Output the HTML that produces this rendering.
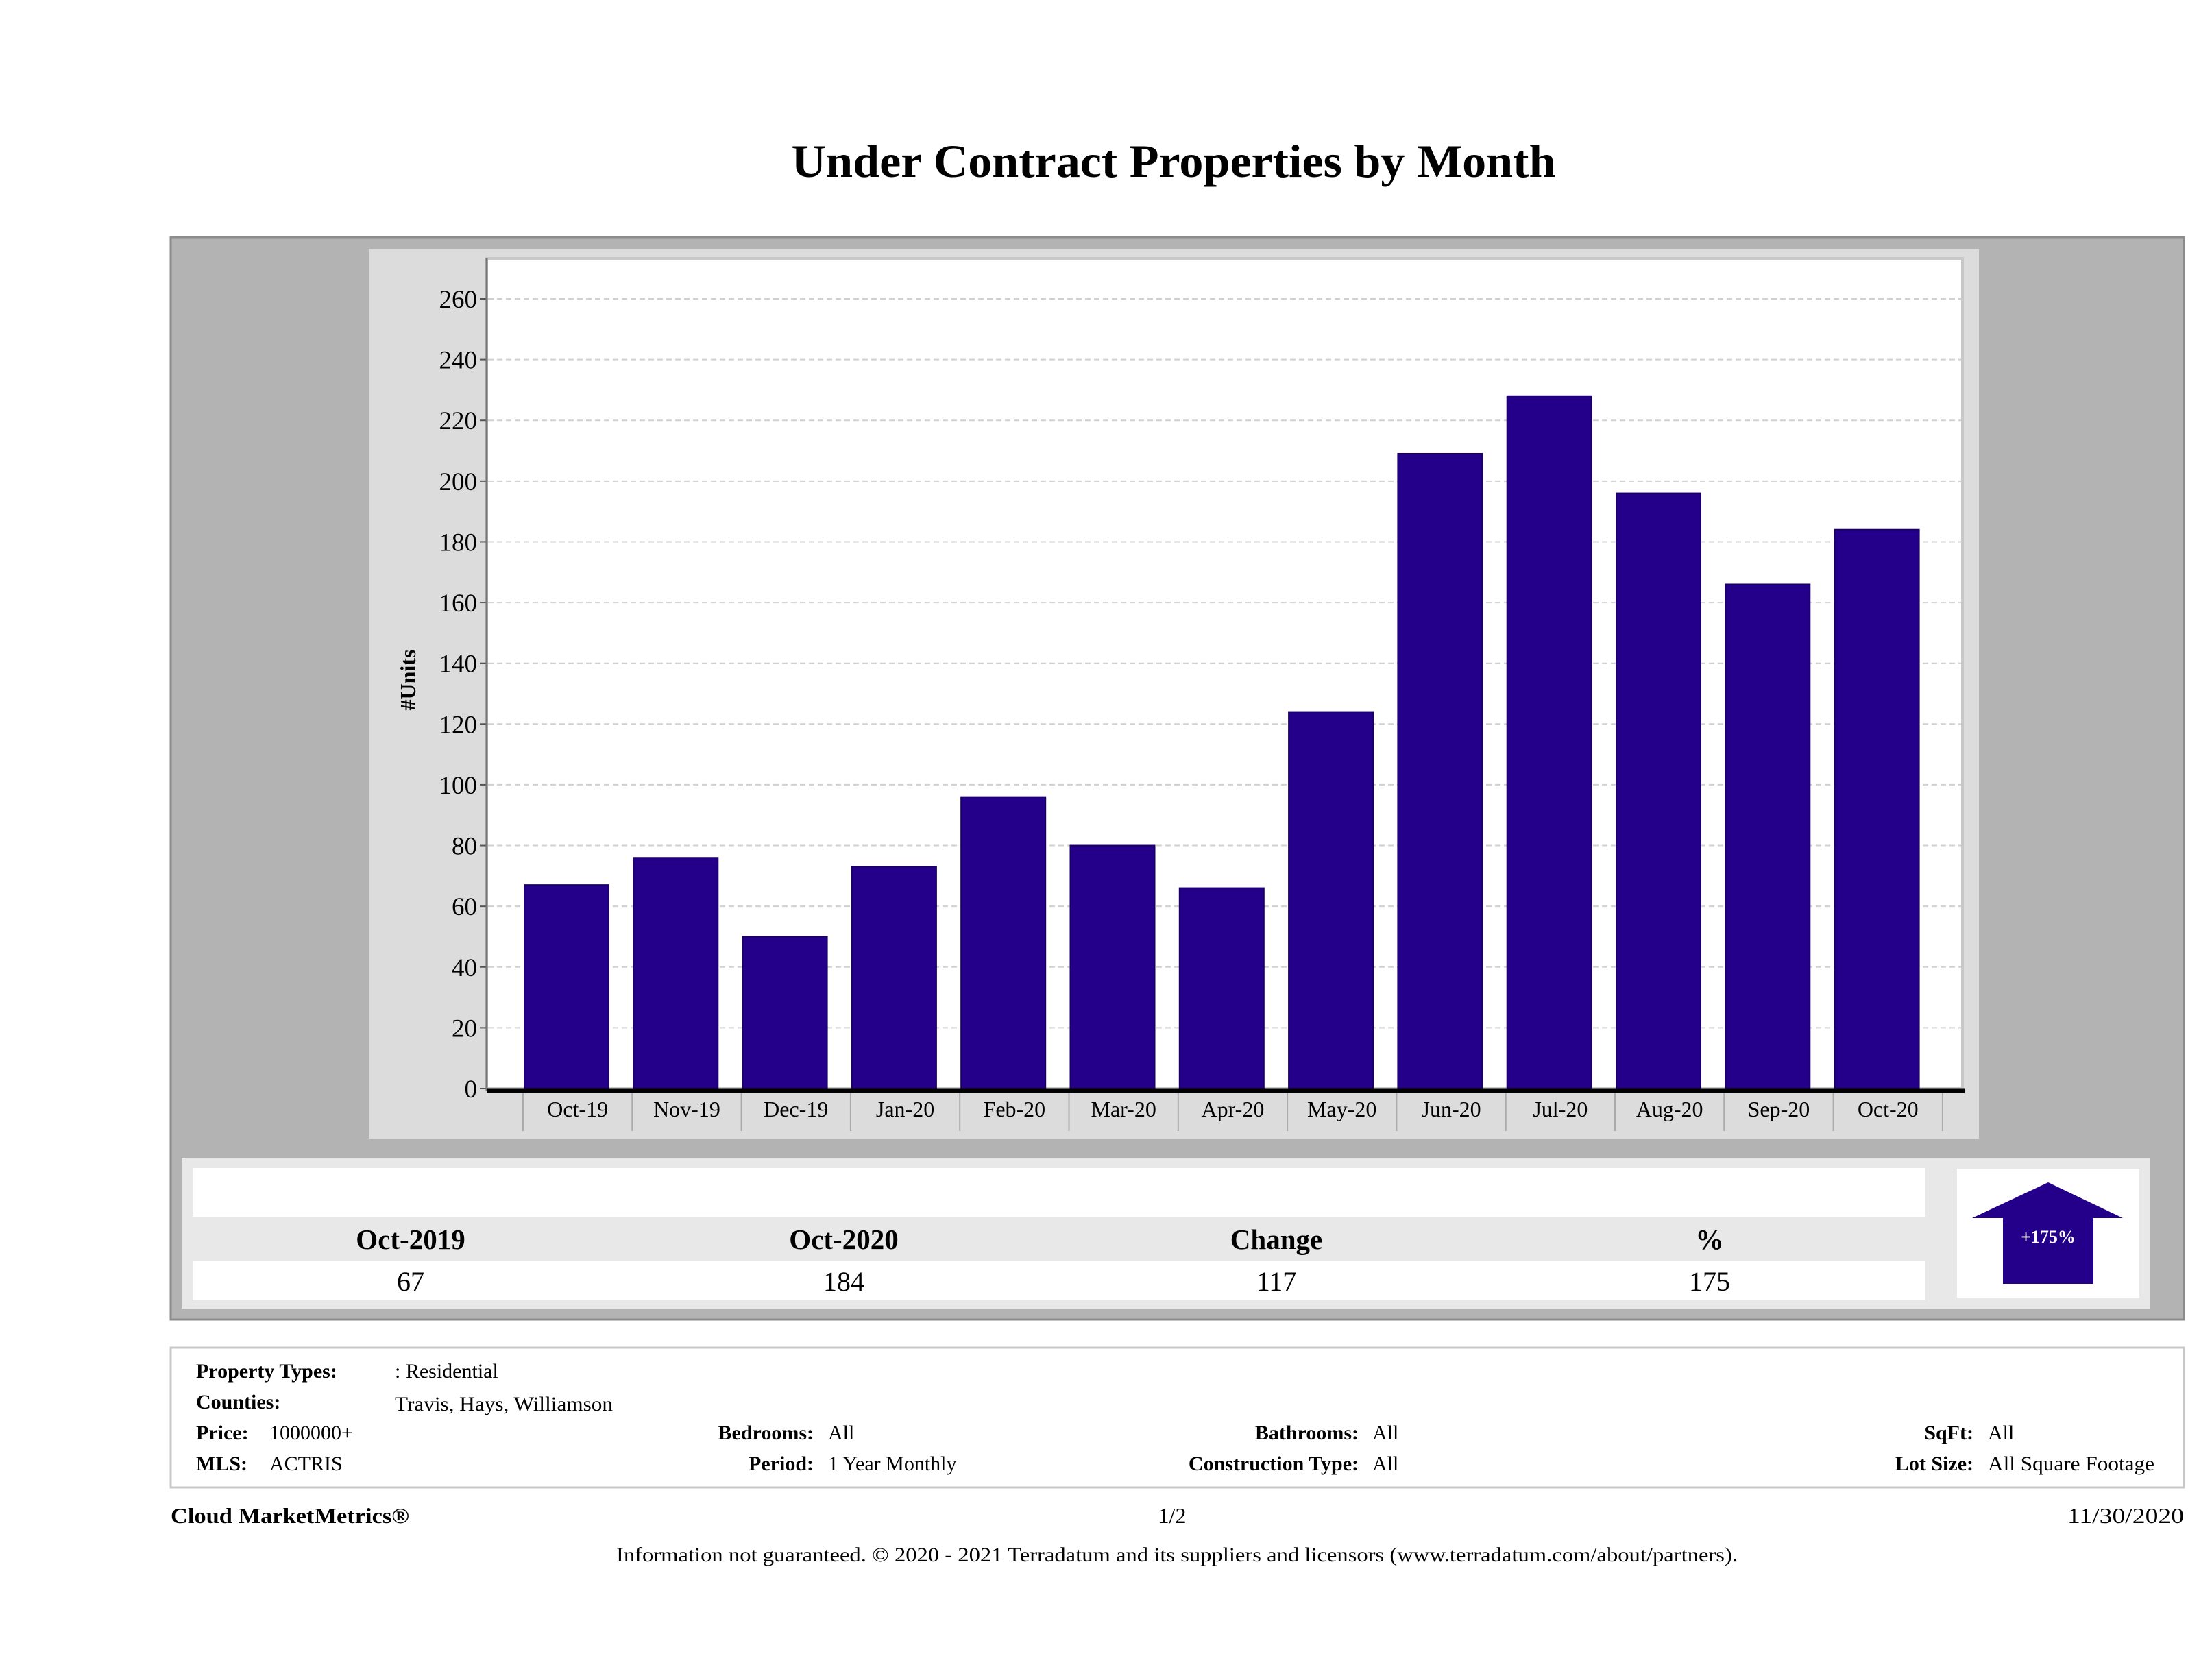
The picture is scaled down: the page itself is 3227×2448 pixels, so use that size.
<!DOCTYPE html>
<html><head><meta charset="utf-8"><style>
html,body{margin:0;padding:0;background:#fff;}
svg{display:block;font-family:"Liberation Serif",serif;}
</style></head><body>
<svg width="3227" height="2448" viewBox="0 0 3227 2448">
<text x="1712" y="258" text-anchor="middle" font-size="68" font-weight="bold" textLength="1115" lengthAdjust="spacingAndGlyphs">Under Contract Properties by Month</text>
<rect x="249" y="346" width="2937" height="1579" fill="#b3b3b3" stroke="#8c8c8c" stroke-width="3"/>
<rect x="539" y="363" width="2348" height="1298" fill="#dcdcdc"/>
<rect x="710" y="377" width="2153" height="1211" fill="#fff" stroke="#c8c8c8" stroke-width="4"/>
<g id="grid"></g>
<g id="bars"></g>
<g id="yaxis"></g>
<g id="xaxis"></g>
<line x1="710" y1="377" x2="710" y2="1592" stroke="#777" stroke-width="3"/>
<line x1="710" y1="1591" x2="2866" y2="1591" stroke="#000" stroke-width="7"/>
<text transform="translate(606,992) rotate(-90)" text-anchor="middle" font-size="32" font-weight="bold">#Units</text>

<rect x="265" y="1689" width="2871" height="220" fill="#e8e8e8"/>
<rect x="282" y="1704" width="2527" height="71" fill="#fff"/>
<rect x="282" y="1840" width="2527" height="57" fill="#fff"/>
<g font-size="41" font-weight="bold" text-anchor="middle">
<text x="599" y="1822">Oct-2019</text>
<text x="1231" y="1822">Oct-2020</text>
<text x="1862" y="1822">Change</text>
<text x="2494" y="1822">%</text>
</g>
<g font-size="40" text-anchor="middle">
<text x="599" y="1883">67</text>
<text x="1231" y="1883">184</text>
<text x="1862" y="1883">117</text>
<text x="2494" y="1883">175</text>
</g>
<rect x="2855" y="1705" width="266" height="188" fill="#fff"/>
<polygon points="2988,1725 3097,1777 3054,1777 3054,1873 2922,1873 2922,1777 2877,1777" fill="#24008a"/>
<text x="2988" y="1813" text-anchor="middle" font-size="26" font-weight="bold" fill="#fff">+175%</text>

<rect x="249" y="1966" width="2937" height="204" fill="#fff" stroke="#c8c8c8" stroke-width="3"/>
<g font-size="30">
<text x="286" y="2010" font-weight="bold">Property Types:</text><text x="576" y="2010">: Residential</text>
<text x="286" y="2055" font-weight="bold">Counties:</text><text x="576" y="2058" textLength="318" lengthAdjust="spacingAndGlyphs">Travis, Hays, Williamson</text>
<text x="286" y="2100" font-weight="bold">Price:</text><text x="393" y="2100">1000000+</text>
<text x="286" y="2145" font-weight="bold">MLS:</text><text x="393" y="2145">ACTRIS</text>
<text x="1187" y="2100" font-weight="bold" text-anchor="end">Bedrooms:</text><text x="1208" y="2100">All</text>
<text x="1187" y="2145" font-weight="bold" text-anchor="end">Period:</text><text x="1208" y="2145">1 Year Monthly</text>
<text x="1982" y="2100" font-weight="bold" text-anchor="end">Bathrooms:</text><text x="2002" y="2100">All</text>
<text x="1982" y="2145" font-weight="bold" text-anchor="end">Construction Type:</text><text x="2002" y="2145">All</text>
<text x="2879" y="2100" font-weight="bold" text-anchor="end">SqFt:</text><text x="2900" y="2100">All</text>
<text x="2879" y="2145" font-weight="bold" text-anchor="end">Lot Size:</text><text x="2900" y="2145" textLength="243" lengthAdjust="spacingAndGlyphs">All Square Footage</text>
</g>
<text x="249" y="2222" font-size="32" font-weight="bold" textLength="348" lengthAdjust="spacingAndGlyphs">Cloud MarketMetrics®</text>
<text x="1710" y="2222" font-size="32" text-anchor="middle">1/2</text>
<text x="3186" y="2222" font-size="32" text-anchor="end" textLength="170" lengthAdjust="spacingAndGlyphs">11/30/2020</text>
<text x="899" y="2278" font-size="30" textLength="1636" lengthAdjust="spacingAndGlyphs">Information not guaranteed. © 2020 - 2021 Terradatum and its suppliers and licensors (www.terradatum.com/about/partners).</text>
</svg>
<script>
const categories = ["Oct-19","Nov-19","Dec-19","Jan-20","Feb-20","Mar-20","Apr-20","May-20","Jun-20","Jul-20","Aug-20","Sep-20","Oct-20"];
const units = [67,76,50,73,96,80,66,124,209,228,196,166,184];
const yTicks = [0,20,40,60,80,100,120,140,160,180,200,220,240,260];
const NS="http://www.w3.org/2000/svg";
const y0=1588, y260=436, bandStart=763, band=159.3, barW=123;
function yScale(v){return y0-(y0-y260)*v/260;}
function xBand(i){return bandStart+i*band;}
function mk(t,a,p){const e=document.createElementNS(NS,t);for(const k in a)e.setAttribute(k,a[k]);p.appendChild(e);return e;}
const grid=document.getElementById('grid'),yax=document.getElementById('yaxis'),xax=document.getElementById('xaxis'),bars=document.getElementById('bars');
yTicks.forEach(v=>{
  const y=yScale(v);
  if(v>0){const g=mk('line',{x1:712,x2:2861,y1:y,y2:y,stroke:'#d0d0d0','stroke-width':2,'stroke-dasharray':'8,5'},grid);
  
  }
  const tk=mk('line',{x1:700,x2:710,y1:y,y2:y,stroke:'#555','stroke-width':2},yax);
  
  
  const t=mk('text',{x:696,y:y+13,'text-anchor':'end','font-size':37},yax);
  t.textContent=v;
  
  
});
categories.forEach((c,i)=>{
  const x=xBand(i);
  const r=mk('rect',{x:x+2,y:yScale(units[i]),width:barW,height:y0-yScale(units[i]),fill:'#24008a',stroke:'#1a0066','stroke-width':2},bars);
  
  
  const s=mk('line',{x1:x,x2:x,y1:1594,y2:1650,stroke:'#aaa','stroke-width':2},xax);
  
  
  const t=mk('text',{x:x+band/2,y:1629,'text-anchor':'middle','font-size':32},xax);
  t.textContent=c;
  
  
});
const last=mk('line',{x1:xBand(13),x2:xBand(13),y1:1594,y2:1650,stroke:'#aaa','stroke-width':2},xax);


</script>
</body></html>
